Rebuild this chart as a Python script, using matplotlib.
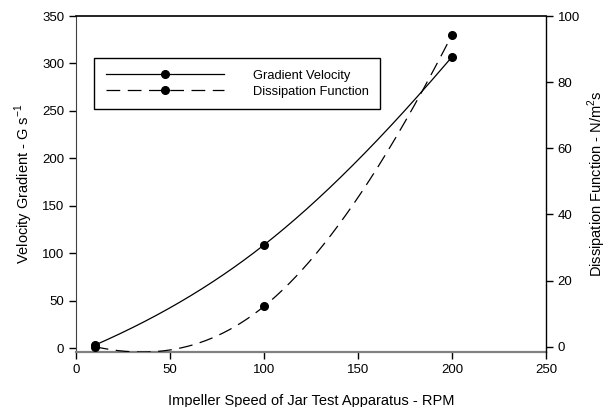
import numpy as np
import matplotlib.pyplot as plt

plt.rcParams['font.family'] = ['Liberation Sans', 'DejaVu Sans']

# data
rpm = [10, 100, 200]
gradient = [3.5, 109, 307]          # G, s^-1 (left axis)
dissipation = [0.016, 12.2, 94.3]   # N/m^2 s (right axis)


def smooth(x, y, lam=0.5, n=200):
    # cubic spline through 3 points, end curvature = lam * interior curvature
    x = np.asarray(x, float)
    y = np.asarray(y, float)
    h0, h1 = x[1] - x[0], x[2] - x[1]
    d = (y[2] - y[1]) / h1 - (y[1] - y[0]) / h0
    m1 = 6 * d / ((2 + lam) * (h0 + h1))
    m = [lam * m1, m1, lam * m1]
    xs, ys = [], []
    for i in range(2):
        h = x[i + 1] - x[i]
        t = np.linspace(x[i], x[i + 1], n)
        s = (m[i] * (x[i + 1] - t) ** 3 / (6 * h) + m[i + 1] * (t - x[i]) ** 3 / (6 * h)
             + (y[i] / h - m[i] * h / 6) * (x[i + 1] - t)
             + (y[i + 1] / h - m[i + 1] * h / 6) * (t - x[i]))
        xs.append(t)
        ys.append(s)
    return np.concatenate(xs), np.concatenate(ys)


fig = plt.figure(figsize=(6.07, 4.07), dpi=100)
ax = fig.add_axes([76 / 607, 1 - 352 / 407, 470 / 607, 336 / 407])
ax2 = ax.twinx()

sx, sy = smooth(rpm, gradient)
ax.plot(sx, sy, color='black', lw=0.9)
ax.plot(rpm, gradient, 'o', color='black', ms=5.5)

dx, dy = smooth(rpm, dissipation)
ax2.plot(dx, dy, color='black', lw=0.9, dashes=(11, 6))
ax2.plot(rpm, dissipation, 'o', color='black', ms=5.5)

ax.set_xlim(0, 250)
ax.set_ylim(-3.7, 350)
ax2.set_ylim(-1.6, 100)
ax.set_xticks(np.arange(0, 251, 50))
ax.set_yticks(np.arange(0, 351, 50))
ax2.set_yticks(np.arange(0, 101, 20))

for a in (ax, ax2):
    a.tick_params(direction='out', length=5, width=1, labelsize=9.5, colors='black')
ax.spines['right'].set_visible(False)
for s in ('left', 'bottom', 'top'):
    ax2.spines[s].set_visible(False)
ax.spines['bottom'].set_color('#808080')
ax.spines['bottom'].set_linewidth(1.6)
ax.spines['left'].set_color('#404040')
ax.spines['top'].set_linewidth(1.2)
ax2.spines['right'].set_linewidth(1.0)

ax.set_xlabel('Impeller Speed of Jar Test Apparatus - RPM', fontsize=10.5, labelpad=13)
ax.set_ylabel('Velocity Gradient - G s$^{\\mathregular{-1}}$', fontsize=10.5, labelpad=5)
ax2.set_ylabel('Dissipation Function - N/m$^{\\mathregular{2}}$s', fontsize=10.5, labelpad=4)

h1 = plt.Line2D([], [], color='black', lw=0.9, marker='o', ms=5.5)
h2 = plt.Line2D([], [], color='black', lw=0.9, dashes=(11, 6), marker='o', ms=5.5)
leg = ax2.legend([h1, h2], ['Gradient Velocity', 'Dissipation Function'],
                 loc='upper left', bbox_to_anchor=(94 / 607, 1 - 58 / 407),
                 bbox_transform=fig.transFigure, borderaxespad=0,
                 fontsize=9.3, numpoints=1, handlelength=9.2, handletextpad=2.2,
                 labelspacing=0.3, borderpad=0.9, fancybox=False, framealpha=1,
                 edgecolor='black')
leg.get_frame().set_linewidth(1.0)

fig.savefig('out.png', dpi=100)
